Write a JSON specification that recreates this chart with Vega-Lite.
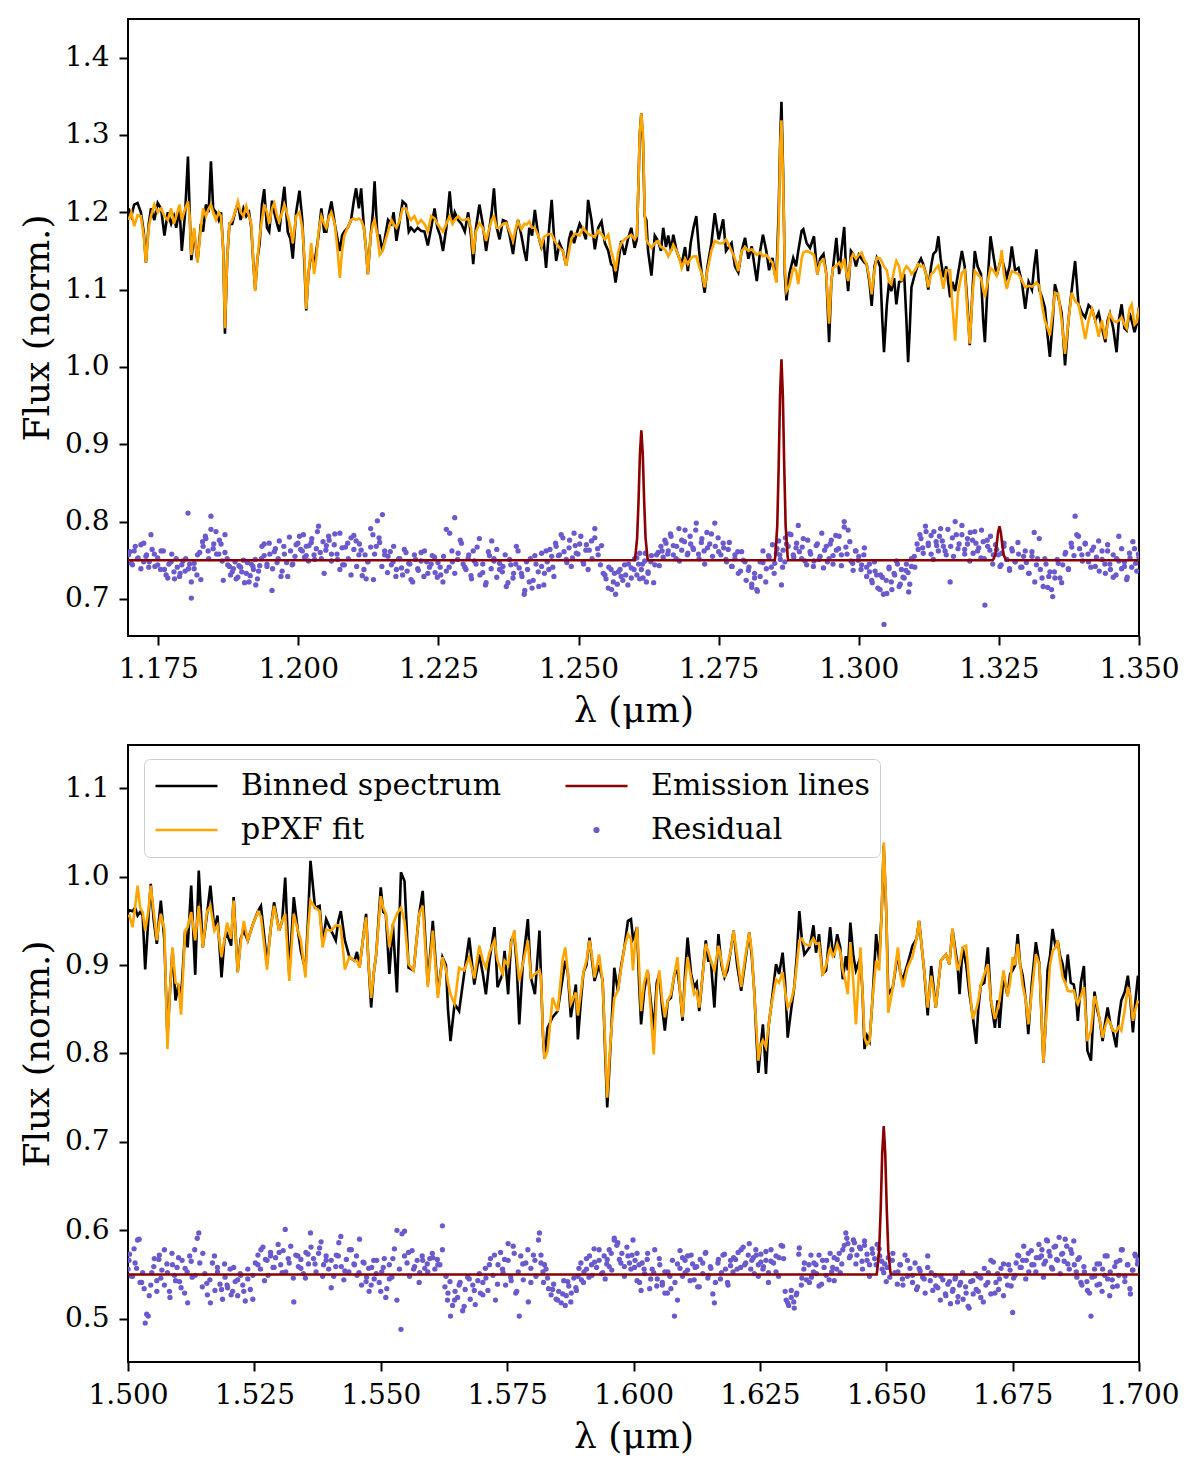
{
"$schema": "https://vega.github.io/schema/vega-lite/v6.json",
"background": "white",
"padding": {"left": 18, "top": 18, "right": 8, "bottom": 8},
"spacing": 15,
"config": {
  "font": "DejaVu Serif",
  "view": {"stroke": "black", "strokeWidth": 2},
  "axis": {"domain": false, "grid": false, "ticks": true, "tickColor": "black", "tickWidth": 2, "tickSize": 9, "labelFont": "DejaVu Serif", "labelFontSize": 28, "labelColor": "black", "labelPadding": 10, "labelFlush": false, "titleFont": "DejaVu Serif", "titleFontSize": 36, "titleFontWeight": "normal", "titleColor": "black"},
  "axisX": {"titlePadding": 10},
  "axisY": {"titlePadding": 8}
},
"datasets": {
"top": [
{"w":1.1697,"o":1.205,"f":1.190,"r":0.757},{"w":1.1702,"o":1.195,"f":1.200,"r":0.746},{"w":1.1707,"o":1.210,"f":1.182,"r":0.762},{"w":1.1713,"o":1.212,"f":1.196,"r":0.752},{"w":1.1719,"o":1.200,"f":1.195,"r":0.770},{"w":1.1724,"o":1.175,"f":1.170,"r":0.748},{"w":1.1728,"o":1.135,"f":1.135,"r":0.755},{"w":1.1733,"o":1.185,"f":1.180,"r":0.741},{"w":1.1737,"o":1.205,"f":1.195,"r":0.783},{"w":1.1743,"o":1.190,"f":1.210,"r":0.758},
{"w":1.1749,"o":1.212,"f":1.200,"r":0.744},{"w":1.1755,"o":1.205,"f":1.205,"r":0.762},{"w":1.1761,"o":1.170,"f":1.195,"r":0.738},{"w":1.1767,"o":1.200,"f":1.190,"r":0.727},{"w":1.1773,"o":1.185,"f":1.205,"r":0.748},{"w":1.1778,"o":1.195,"f":1.185,"r":0.735},{"w":1.1782,"o":1.180,"f":1.195,"r":0.752},{"w":1.1788,"o":1.205,"f":1.210,"r":0.729},{"w":1.1792,"o":1.150,"f":1.190,"r":0.744},{"w":1.1798,"o":1.200,"f":1.205,"r":0.736},
{"w":1.1803,"o":1.272,"f":1.214,"r":0.811},{"w":1.1806,"o":1.200,"f":1.195,"r":0.745},{"w":1.1809,"o":1.138,"f":1.145,"r":0.701},{"w":1.1814,"o":1.175,"f":1.180,"r":0.739},{"w":1.1820,"o":1.136,"f":1.135,"r":0.757},{"w":1.1826,"o":1.185,"f":1.180,"r":0.725},{"w":1.1830,"o":1.175,"f":1.205,"r":0.768},{"w":1.1835,"o":1.210,"f":1.195,"r":0.778},{"w":1.1840,"o":1.200,"f":1.205,"r":0.752},{"w":1.1844,"o":1.266,"f":1.210,"r":0.807},
{"w":1.1848,"o":1.205,"f":1.200,"r":0.765},{"w":1.1853,"o":1.200,"f":1.190,"r":0.787},{"w":1.1858,"o":1.190,"f":1.200,"r":0.758},{"w":1.1862,"o":1.200,"f":1.195,"r":0.771},{"w":1.1866,"o":1.150,"f":1.150,"r":0.724},{"w":1.1869,"o":1.043,"f":1.050,"r":0.760},{"w":1.1873,"o":1.140,"f":1.140,"r":0.752},{"w":1.1877,"o":1.185,"f":1.185,"r":0.742},{"w":1.1882,"o":1.185,"f":1.190,"r":0.735},{"w":1.1887,"o":1.200,"f":1.200,"r":0.748},
{"w":1.1892,"o":1.212,"f":1.214,"r":0.728},{"w":1.1897,"o":1.190,"f":1.200,"r":0.741},{"w":1.1902,"o":1.205,"f":1.195,"r":0.750},{"w":1.1907,"o":1.195,"f":1.208,"r":0.733},{"w":1.1912,"o":1.200,"f":1.195,"r":0.722},{"w":1.1916,"o":1.180,"f":1.185,"r":0.745},{"w":1.1920,"o":1.130,"f":1.130,"r":0.738},{"w":1.1923,"o":1.100,"f":1.098,"r":0.751},{"w":1.1927,"o":1.140,"f":1.140,"r":0.726},{"w":1.1931,"o":1.160,"f":1.170,"r":0.743},
{"w":1.1935,"o":1.210,"f":1.190,"r":0.768},{"w":1.1939,"o":1.230,"f":1.210,"r":0.756},{"w":1.1944,"o":1.180,"f":1.200,"r":0.742},{"w":1.1948,"o":1.175,"f":1.185,"r":0.772},{"w":1.1953,"o":1.215,"f":1.205,"r":0.711},{"w":1.1957,"o":1.200,"f":1.212,"r":0.761},{"w":1.1962,"o":1.185,"f":1.195,"r":0.747},{"w":1.1966,"o":1.175,"f":1.188,"r":0.775},{"w":1.1971,"o":1.210,"f":1.200,"r":0.736},{"w":1.1975,"o":1.233,"f":1.210,"r":0.758},
{"w":1.1981,"o":1.175,"f":1.195,"r":0.729},{"w":1.1986,"o":1.165,"f":1.180,"r":0.762},{"w":1.1990,"o":1.140,"f":1.160,"r":0.745},{"w":1.1996,"o":1.200,"f":1.195,"r":0.770},{"w":1.2002,"o":1.228,"f":1.200,"r":0.781},{"w":1.2007,"o":1.190,"f":1.180,"r":0.762},{"w":1.2011,"o":1.130,"f":1.140,"r":0.754},{"w":1.2014,"o":1.073,"f":1.075,"r":0.768},{"w":1.2018,"o":1.120,"f":1.120,"r":0.749},{"w":1.2023,"o":1.150,"f":1.160,"r":0.773},
{"w":1.2028,"o":1.130,"f":1.120,"r":0.757},{"w":1.2032,"o":1.150,"f":1.140,"r":0.765},{"w":1.2036,"o":1.170,"f":1.175,"r":0.794},{"w":1.2041,"o":1.205,"f":1.195,"r":0.752},{"w":1.2046,"o":1.175,"f":1.185,"r":0.733},{"w":1.2050,"o":1.175,"f":1.180,"r":0.769},{"w":1.2055,"o":1.200,"f":1.195,"r":0.776},{"w":1.2059,"o":1.214,"f":1.200,"r":0.758},{"w":1.2065,"o":1.185,"f":1.185,"r":0.784},{"w":1.2070,"o":1.165,"f":1.150,"r":0.751},
{"w":1.2074,"o":1.150,"f":1.115,"r":0.738},{"w":1.2078,"o":1.170,"f":1.150,"r":0.766},{"w":1.2082,"o":1.175,"f":1.170,"r":0.744},{"w":1.2088,"o":1.180,"f":1.180,"r":0.772},{"w":1.2094,"o":1.190,"f":1.190,"r":0.731},{"w":1.2099,"o":1.215,"f":1.192,"r":0.782},{"w":1.2103,"o":1.231,"f":1.190,"r":0.775},{"w":1.2108,"o":1.205,"f":1.192,"r":0.757},{"w":1.2112,"o":1.231,"f":1.190,"r":0.763},{"w":1.2117,"o":1.180,"f":1.180,"r":0.738},
{"w":1.2121,"o":1.150,"f":1.150,"r":0.726},{"w":1.2124,"o":1.120,"f":1.120,"r":0.748},{"w":1.2129,"o":1.170,"f":1.170,"r":0.767},{"w":1.2133,"o":1.200,"f":1.185,"r":0.783},{"w":1.2136,"o":1.240,"f":1.190,"r":0.758},{"w":1.2141,"o":1.170,"f":1.170,"r":0.801},{"w":1.2145,"o":1.170,"f":1.145,"r":0.773},{"w":1.2150,"o":1.150,"f":1.150,"r":0.809},{"w":1.2154,"o":1.165,"f":1.160,"r":0.762},{"w":1.2160,"o":1.190,"f":1.175,"r":0.755},
{"w":1.2166,"o":1.185,"f":1.190,"r":0.744},{"w":1.2170,"o":1.200,"f":1.185,"r":0.768},{"w":1.2175,"o":1.163,"f":1.180,"r":0.738},{"w":1.2181,"o":1.190,"f":1.190,"r":0.752},{"w":1.2186,"o":1.214,"f":1.205,"r":0.731},{"w":1.2192,"o":1.210,"f":1.205,"r":0.760},{"w":1.2197,"o":1.175,"f":1.195,"r":0.746},{"w":1.2201,"o":1.180,"f":1.190,"r":0.725},{"w":1.2207,"o":1.175,"f":1.195,"r":0.757},{"w":1.2213,"o":1.180,"f":1.185,"r":0.739},
{"w":1.2219,"o":1.176,"f":1.190,"r":0.749},{"w":1.2225,"o":1.175,"f":1.185,"r":0.762},{"w":1.2231,"o":1.157,"f":1.175,"r":0.733},{"w":1.2237,"o":1.180,"f":1.195,"r":0.745},{"w":1.2243,"o":1.205,"f":1.192,"r":0.754},{"w":1.2248,"o":1.180,"f":1.185,"r":0.728},{"w":1.2253,"o":1.170,"f":1.180,"r":0.741},{"w":1.2258,"o":1.150,"f":1.175,"r":0.722},{"w":1.2264,"o":1.180,"f":1.185,"r":0.736},{"w":1.2270,"o":1.227,"f":1.195,"r":0.785},
{"w":1.2275,"o":1.185,"f":1.185,"r":0.748},{"w":1.2279,"o":1.200,"f":1.190,"r":0.805},{"w":1.2285,"o":1.190,"f":1.195,"r":0.759},{"w":1.2291,"o":1.185,"f":1.190,"r":0.772},{"w":1.2297,"o":1.175,"f":1.190,"r":0.741},{"w":1.2303,"o":1.200,"f":1.192,"r":0.753},{"w":1.2308,"o":1.170,"f":1.180,"r":0.730},{"w":1.2312,"o":1.133,"f":1.146,"r":0.762},{"w":1.2317,"o":1.180,"f":1.175,"r":0.745},{"w":1.2323,"o":1.210,"f":1.186,"r":0.778},
{"w":1.2329,"o":1.185,"f":1.180,"r":0.734},{"w":1.2335,"o":1.150,"f":1.163,"r":0.721},{"w":1.2341,"o":1.180,"f":1.180,"r":0.756},{"w":1.2345,"o":1.200,"f":1.190,"r":0.775},{"w":1.2349,"o":1.231,"f":1.195,"r":0.749},{"w":1.2354,"o":1.180,"f":1.180,"r":0.764},{"w":1.2359,"o":1.165,"f":1.180,"r":0.738},{"w":1.2365,"o":1.190,"f":1.185,"r":0.742},{"w":1.2371,"o":1.188,"f":1.186,"r":0.716},{"w":1.2377,"o":1.170,"f":1.175,"r":0.751},
{"w":1.2383,"o":1.146,"f":1.163,"r":0.727},{"w":1.2388,"o":1.175,"f":1.180,"r":0.745},{"w":1.2392,"o":1.190,"f":1.188,"r":0.762},{"w":1.2398,"o":1.170,"f":1.178,"r":0.733},{"w":1.2403,"o":1.150,"f":1.185,"r":0.706},{"w":1.2407,"o":1.137,"f":1.184,"r":0.748},{"w":1.2412,"o":1.180,"f":1.188,"r":0.722},{"w":1.2417,"o":1.170,"f":1.180,"r":0.714},{"w":1.2422,"o":1.203,"f":1.180,"r":0.756},{"w":1.2428,"o":1.170,"f":1.170,"r":0.735},
{"w":1.2434,"o":1.154,"f":1.156,"r":0.742},{"w":1.2438,"o":1.160,"f":1.168,"r":0.718},{"w":1.2442,"o":1.128,"f":1.170,"r":0.762},{"w":1.2447,"o":1.175,"f":1.172,"r":0.738},{"w":1.2452,"o":1.216,"f":1.172,"r":0.755},{"w":1.2456,"o":1.170,"f":1.165,"r":0.729},{"w":1.2460,"o":1.137,"f":1.160,"r":0.768},{"w":1.2466,"o":1.160,"f":1.154,"r":0.757},{"w":1.2472,"o":1.150,"f":1.150,"r":0.779},{"w":1.2478,"o":1.131,"f":1.131,"r":0.751},
{"w":1.2483,"o":1.165,"f":1.150,"r":0.766},{"w":1.2487,"o":1.176,"f":1.165,"r":0.742},{"w":1.2492,"o":1.160,"f":1.172,"r":0.785},{"w":1.2496,"o":1.171,"f":1.172,"r":0.759},{"w":1.2502,"o":1.185,"f":1.170,"r":0.771},{"w":1.2508,"o":1.176,"f":1.180,"r":0.748},{"w":1.2513,"o":1.165,"f":1.175,"r":0.763},{"w":1.2517,"o":1.216,"f":1.172,"r":0.738},{"w":1.2523,"o":1.190,"f":1.170,"r":0.775},{"w":1.2529,"o":1.152,"f":1.168,"r":0.791},
{"w":1.2535,"o":1.180,"f":1.176,"r":0.757},{"w":1.2541,"o":1.188,"f":1.172,"r":0.769},{"w":1.2547,"o":1.160,"f":1.165,"r":0.731},{"w":1.2553,"o":1.150,"f":1.171,"r":0.714},{"w":1.2558,"o":1.133,"f":1.150,"r":0.738},{"w":1.2562,"o":1.130,"f":1.140,"r":0.722},{"w":1.2566,"o":1.109,"f":1.124,"r":0.706},{"w":1.2571,"o":1.135,"f":1.150,"r":0.735},{"w":1.2576,"o":1.163,"f":1.160,"r":0.729},{"w":1.2582,"o":1.145,"f":1.165,"r":0.744},
{"w":1.2588,"o":1.165,"f":1.168,"r":0.718},{"w":1.2594,"o":1.180,"f":1.171,"r":0.740},{"w":1.2600,"o":1.154,"f":1.165,"r":0.752},{"w":1.2604,"o":1.165,"f":1.170,"r":0.731},{"w":1.2607,"o":1.240,"f":1.240,"r":0.745},{"w":1.2609,"o":1.300,"f":1.300,"r":0.759},{"w":1.2612,"o":1.328,"f":1.328,"r":0.738},{"w":1.2615,"o":1.290,"f":1.300,"r":0.727},{"w":1.2618,"o":1.195,"f":1.200,"r":0.749},{"w":1.2621,"o":1.190,"f":1.165,"r":0.722},
{"w":1.2624,"o":1.150,"f":1.160,"r":0.735},{"w":1.2630,"o":1.118,"f":1.154,"r":0.756},{"w":1.2636,"o":1.170,"f":1.160,"r":0.744},{"w":1.2642,"o":1.163,"f":1.163,"r":0.760},{"w":1.2647,"o":1.150,"f":1.155,"r":0.768},{"w":1.2651,"o":1.180,"f":1.154,"r":0.754},{"w":1.2656,"o":1.155,"f":1.150,"r":0.772},{"w":1.2660,"o":1.170,"f":1.143,"r":0.762},{"w":1.2665,"o":1.150,"f":1.150,"r":0.781},{"w":1.2669,"o":1.171,"f":1.158,"r":0.757},
{"w":1.2675,"o":1.150,"f":1.150,"r":0.768},{"w":1.2680,"o":1.140,"f":1.140,"r":0.749},{"w":1.2684,"o":1.133,"f":1.128,"r":0.776},{"w":1.2690,"o":1.155,"f":1.140,"r":0.789},{"w":1.2695,"o":1.124,"f":1.133,"r":0.759},{"w":1.2700,"o":1.160,"f":1.140,"r":0.771},{"w":1.2705,"o":1.180,"f":1.143,"r":0.764},{"w":1.2710,"o":1.195,"f":1.143,"r":0.798},{"w":1.2715,"o":1.150,"f":1.130,"r":0.752},{"w":1.2720,"o":1.120,"f":1.120,"r":0.778},
{"w":1.2725,"o":1.096,"f":1.103,"r":0.745},{"w":1.2730,"o":1.130,"f":1.125,"r":0.766},{"w":1.2737,"o":1.160,"f":1.150,"r":0.784},{"w":1.2743,"o":1.199,"f":1.163,"r":0.798},{"w":1.2750,"o":1.165,"f":1.160,"r":0.761},{"w":1.2758,"o":1.191,"f":1.160,"r":0.772},{"w":1.2763,"o":1.150,"f":1.165,"r":0.751},{"w":1.2767,"o":1.154,"f":1.160,"r":0.764},{"w":1.2773,"o":1.160,"f":1.150,"r":0.742},{"w":1.2779,"o":1.130,"f":1.140,"r":0.757},
{"w":1.2785,"o":1.122,"f":1.124,"r":0.733},{"w":1.2791,"o":1.150,"f":1.150,"r":0.761},{"w":1.2797,"o":1.167,"f":1.155,"r":0.748},{"w":1.2803,"o":1.140,"f":1.150,"r":0.737},{"w":1.2809,"o":1.156,"f":1.152,"r":0.715},{"w":1.2814,"o":1.130,"f":1.148,"r":0.727},{"w":1.2818,"o":1.111,"f":1.145,"r":0.712},{"w":1.2824,"o":1.150,"f":1.148,"r":0.748},{"w":1.2829,"o":1.171,"f":1.143,"r":0.762},{"w":1.2835,"o":1.150,"f":1.145,"r":0.739},
{"w":1.2840,"o":1.125,"f":1.140,"r":0.754},{"w":1.2846,"o":1.141,"f":1.135,"r":0.770},{"w":1.2850,"o":1.120,"f":1.120,"r":0.746},{"w":1.2853,"o":1.116,"f":1.109,"r":0.759},{"w":1.2857,"o":1.200,"f":1.180,"r":0.775},{"w":1.2860,"o":1.300,"f":1.290,"r":0.751},{"w":1.2862,"o":1.343,"f":1.319,"r":0.718},{"w":1.2865,"o":1.250,"f":1.240,"r":0.763},{"w":1.2868,"o":1.120,"f":1.130,"r":0.748},{"w":1.2871,"o":1.086,"f":1.098,"r":0.771},
{"w":1.2876,"o":1.120,"f":1.105,"r":0.784},{"w":1.2883,"o":1.141,"f":1.128,"r":0.757},{"w":1.2888,"o":1.130,"f":1.125,"r":0.766},{"w":1.2892,"o":1.150,"f":1.107,"r":0.795},{"w":1.2898,"o":1.176,"f":1.140,"r":0.752},{"w":1.2901,"o":1.178,"f":1.148,"r":0.778},{"w":1.2907,"o":1.160,"f":1.150,"r":0.744},{"w":1.2913,"o":1.154,"f":1.148,"r":0.761},{"w":1.2920,"o":1.169,"f":1.145,"r":0.749},{"w":1.2926,"o":1.120,"f":1.120,"r":0.771},
{"w":1.2931,"o":1.140,"f":1.135,"r":0.755},{"w":1.2937,"o":1.146,"f":1.139,"r":0.740},{"w":1.2942,"o":1.120,"f":1.120,"r":0.768},{"w":1.2947,"o":1.032,"f":1.056,"r":0.752},{"w":1.2951,"o":1.110,"f":1.110,"r":0.776},{"w":1.2954,"o":1.128,"f":1.128,"r":0.745},{"w":1.2960,"o":1.167,"f":1.131,"r":0.763},{"w":1.2965,"o":1.120,"f":1.135,"r":0.781},{"w":1.2969,"o":1.150,"f":1.128,"r":0.757},{"w":1.2974,"o":1.181,"f":1.140,"r":0.800},
{"w":1.2977,"o":1.130,"f":1.125,"r":0.767},{"w":1.2981,"o":1.098,"f":1.111,"r":0.789},{"w":1.2986,"o":1.150,"f":1.140,"r":0.749},{"w":1.2990,"o":1.146,"f":1.146,"r":0.737},{"w":1.2995,"o":1.130,"f":1.140,"r":0.762},{"w":1.3000,"o":1.145,"f":1.145,"r":0.755},{"w":1.3005,"o":1.140,"f":1.148,"r":0.744},{"w":1.3010,"o":1.135,"f":1.138,"r":0.766},{"w":1.3014,"o":1.133,"f":1.133,"r":0.741},{"w":1.3019,"o":1.110,"f":1.115,"r":0.735},
{"w":1.3023,"o":1.079,"f":1.094,"r":0.724},{"w":1.3028,"o":1.130,"f":1.125,"r":0.748},{"w":1.3032,"o":1.141,"f":1.141,"r":0.731},{"w":1.3038,"o":1.130,"f":1.140,"r":0.712},{"w":1.3042,"o":1.060,"f":1.135,"r":0.728},{"w":1.3045,"o":1.019,"f":1.130,"r":0.667},{"w":1.3050,"o":1.080,"f":1.125,"r":0.707},{"w":1.3054,"o":1.110,"f":1.110,"r":0.741},{"w":1.3058,"o":1.098,"f":1.107,"r":0.722},{"w":1.3063,"o":1.115,"f":1.125,"r":0.733},
{"w":1.3067,"o":1.081,"f":1.137,"r":0.749},{"w":1.3072,"o":1.110,"f":1.130,"r":0.716},{"w":1.3076,"o":1.111,"f":1.111,"r":0.738},{"w":1.3081,"o":1.120,"f":1.125,"r":0.727},{"w":1.3085,"o":1.060,"f":1.130,"r":0.745},{"w":1.3088,"o":1.006,"f":1.128,"r":0.734},{"w":1.3091,"o":1.050,"f":1.125,"r":0.719},{"w":1.3094,"o":1.103,"f":1.120,"r":0.752},{"w":1.3100,"o":1.120,"f":1.125,"r":0.741},{"w":1.3106,"o":1.133,"f":1.133,"r":0.764},
{"w":1.3111,"o":1.140,"f":1.130,"r":0.778},{"w":1.3115,"o":1.133,"f":1.131,"r":0.759},{"w":1.3120,"o":1.120,"f":1.120,"r":0.787},{"w":1.3124,"o":1.100,"f":1.103,"r":0.769},{"w":1.3129,"o":1.130,"f":1.120,"r":0.782},{"w":1.3133,"o":1.146,"f":1.122,"r":0.751},{"w":1.3138,"o":1.150,"f":1.128,"r":0.774},{"w":1.3142,"o":1.169,"f":1.131,"r":0.762},{"w":1.3146,"o":1.140,"f":1.120,"r":0.791},{"w":1.3151,"o":1.116,"f":1.101,"r":0.768},
{"w":1.3156,"o":1.130,"f":1.125,"r":0.757},{"w":1.3163,"o":1.090,"f":1.125,"r":0.722},{"w":1.3167,"o":1.110,"f":1.080,"r":0.779},{"w":1.3172,"o":1.098,"f":1.034,"r":0.800},{"w":1.3177,"o":1.120,"f":1.095,"r":0.765},{"w":1.3184,"o":1.150,"f":1.122,"r":0.783},{"w":1.3189,"o":1.130,"f":1.125,"r":0.758},{"w":1.3194,"o":1.080,"f":1.070,"r":0.771},{"w":1.3198,"o":1.028,"f":1.030,"r":0.749},{"w":1.3203,"o":1.100,"f":1.095,"r":0.776},
{"w":1.3207,"o":1.150,"f":1.124,"r":0.787},{"w":1.3212,"o":1.130,"f":1.120,"r":0.762},{"w":1.3218,"o":1.120,"f":1.115,"r":0.753},{"w":1.3222,"o":1.060,"f":1.100,"r":0.774},{"w":1.3225,"o":1.032,"f":1.090,"r":0.692},{"w":1.3230,"o":1.110,"f":1.110,"r":0.768},{"w":1.3235,"o":1.169,"f":1.128,"r":0.781},{"w":1.3240,"o":1.145,"f":1.125,"r":0.757},{"w":1.3246,"o":1.118,"f":1.118,"r":0.764},{"w":1.3252,"o":1.135,"f":1.135,"r":0.742},
{"w":1.3255,"o":1.141,"f":1.151,"r":0.759},{"w":1.3259,"o":1.130,"f":1.120,"r":0.772},{"w":1.3264,"o":1.116,"f":1.101,"r":0.751},{"w":1.3269,"o":1.130,"f":1.115,"r":0.737},{"w":1.3273,"o":1.156,"f":1.124,"r":0.765},{"w":1.3279,"o":1.125,"f":1.122,"r":0.748},{"w":1.3285,"o":1.128,"f":1.120,"r":0.758},{"w":1.3291,"o":1.110,"f":1.112,"r":0.741},{"w":1.3297,"o":1.075,"f":1.103,"r":0.762},{"w":1.3303,"o":1.110,"f":1.105,"r":0.733},
{"w":1.3309,"o":1.100,"f":1.104,"r":0.755},{"w":1.3313,"o":1.130,"f":1.106,"r":0.786},{"w":1.3317,"o":1.152,"f":1.109,"r":0.744},{"w":1.3322,"o":1.100,"f":1.105,"r":0.778},{"w":1.3327,"o":1.090,"f":1.080,"r":0.727},{"w":1.3332,"o":1.077,"f":1.060,"r":0.752},{"w":1.3337,"o":1.040,"f":1.050,"r":0.715},{"w":1.3341,"o":1.013,"f":1.041,"r":0.735},{"w":1.3346,"o":1.060,"f":1.070,"r":0.703},{"w":1.3350,"o":1.107,"f":1.096,"r":0.727},
{"w":1.3356,"o":1.090,"f":1.094,"r":0.746},{"w":1.3362,"o":1.070,"f":1.060,"r":0.721},{"w":1.3368,"o":1.002,"f":1.017,"r":0.758},{"w":1.3374,"o":1.060,"f":1.060,"r":0.739},{"w":1.3380,"o":1.100,"f":1.096,"r":0.767},{"w":1.3386,"o":1.137,"f":1.085,"r":0.807},{"w":1.3392,"o":1.081,"f":1.081,"r":0.781},{"w":1.3398,"o":1.070,"f":1.060,"r":0.757},{"w":1.3404,"o":1.064,"f":1.036,"r":0.771},{"w":1.3410,"o":1.080,"f":1.060,"r":0.748},
{"w":1.3416,"o":1.075,"f":1.075,"r":0.763},{"w":1.3422,"o":1.060,"f":1.060,"r":0.742},{"w":1.3428,"o":1.070,"f":1.039,"r":0.775},{"w":1.3434,"o":1.050,"f":1.060,"r":0.751},{"w":1.3440,"o":1.032,"f":1.036,"r":0.733},{"w":1.3444,"o":1.060,"f":1.055,"r":0.762},{"w":1.3448,"o":1.069,"f":1.069,"r":0.745},{"w":1.3454,"o":1.050,"f":1.060,"r":0.728},{"w":1.3460,"o":1.019,"f":1.058,"r":0.752},{"w":1.3464,"o":1.060,"f":1.060,"r":0.781},
{"w":1.3469,"o":1.081,"f":1.064,"r":0.739},{"w":1.3474,"o":1.050,"f":1.055,"r":0.748},{"w":1.3478,"o":1.047,"f":1.050,"r":0.725},{"w":1.3483,"o":1.070,"f":1.075,"r":0.759},{"w":1.3487,"o":1.060,"f":1.081,"r":0.741},{"w":1.3492,"o":1.045,"f":1.055,"r":0.765},{"w":1.3496,"o":1.056,"f":1.058,"r":0.736},{"w":1.3500,"o":1.077,"f":1.077,"r":0.754}
],
"rt2": [
{"w":1.1699,"r":0.761},{"w":1.1704,"r":0.744},{"w":1.1709,"r":0.768},{"w":1.1714,"r":0.753},{"w":1.1719,"r":0.739},{"w":1.1724,"r":0.772},{"w":1.1729,"r":0.757},{"w":1.1734,"r":0.748},{"w":1.1739,"r":0.764},{"w":1.1744,"r":0.742},
{"w":1.1749,"r":0.753},{"w":1.1754,"r":0.738},{"w":1.1759,"r":0.762},{"w":1.1764,"r":0.731},{"w":1.1769,"r":0.745},{"w":1.1774,"r":0.758},{"w":1.1779,"r":0.726},{"w":1.1784,"r":0.741},{"w":1.1789,"r":0.733},{"w":1.1794,"r":0.749},
{"w":1.1799,"r":0.752},{"w":1.1804,"r":0.739},{"w":1.1809,"r":0.722},{"w":1.1814,"r":0.746},{"w":1.1819,"r":0.731},{"w":1.1824,"r":0.760},{"w":1.1829,"r":0.774},{"w":1.1834,"r":0.781},{"w":1.1839,"r":0.762},{"w":1.1844,"r":0.790},
{"w":1.1849,"r":0.771},{"w":1.1854,"r":0.758},{"w":1.1859,"r":0.776},{"w":1.1864,"r":0.749},{"w":1.1869,"r":0.783},{"w":1.1874,"r":0.744},{"w":1.1879,"r":0.731},{"w":1.1884,"r":0.739},{"w":1.1889,"r":0.726},{"w":1.1894,"r":0.743},
{"w":1.1899,"r":0.735},{"w":1.1904,"r":0.721},{"w":1.1909,"r":0.747},{"w":1.1914,"r":0.730},{"w":1.1919,"r":0.742},{"w":1.1924,"r":0.718},{"w":1.1929,"r":0.736},{"w":1.1934,"r":0.752},{"w":1.1939,"r":0.771},{"w":1.1944,"r":0.745},
{"w":1.1949,"r":0.758},{"w":1.1954,"r":0.739},{"w":1.1959,"r":0.765},{"w":1.1964,"r":0.752},{"w":1.1969,"r":0.729},{"w":1.1974,"r":0.768},{"w":1.1979,"r":0.747},{"w":1.1984,"r":0.780},{"w":1.1989,"r":0.744},{"w":1.1994,"r":0.755},
{"w":1.1999,"r":0.772},{"w":1.2004,"r":0.764},{"w":1.2009,"r":0.783},{"w":1.2014,"r":0.756},{"w":1.2019,"r":0.769},{"w":1.2024,"r":0.778},{"w":1.2029,"r":0.751},{"w":1.2034,"r":0.787},{"w":1.2039,"r":0.760},{"w":1.2044,"r":0.774},
{"w":1.2049,"r":0.763},{"w":1.2054,"r":0.781},{"w":1.2059,"r":0.749},{"w":1.2064,"r":0.770},{"w":1.2069,"r":0.758},{"w":1.2074,"r":0.785},{"w":1.2079,"r":0.744},{"w":1.2084,"r":0.767},{"w":1.2089,"r":0.752},{"w":1.2094,"r":0.779},
{"w":1.2099,"r":0.764},{"w":1.2104,"r":0.742},{"w":1.2109,"r":0.771},{"w":1.2114,"r":0.730},{"w":1.2119,"r":0.757},{"w":1.2124,"r":0.748},{"w":1.2129,"r":0.791},{"w":1.2134,"r":0.725},{"w":1.2139,"r":0.768},{"w":1.2144,"r":0.779},
{"w":1.2149,"r":0.742},{"w":1.2154,"r":0.757},{"w":1.2159,"r":0.734},{"w":1.2164,"r":0.761},{"w":1.2169,"r":0.748},{"w":1.2174,"r":0.729},{"w":1.2179,"r":0.752},{"w":1.2184,"r":0.740},{"w":1.2189,"r":0.764},{"w":1.2194,"r":0.736},
{"w":1.2199,"r":0.745},{"w":1.2204,"r":0.722},{"w":1.2209,"r":0.751},{"w":1.2214,"r":0.737},{"w":1.2219,"r":0.760},{"w":1.2224,"r":0.729},{"w":1.2229,"r":0.748},{"w":1.2234,"r":0.741},{"w":1.2239,"r":0.756},{"w":1.2244,"r":0.734},
{"w":1.2249,"r":0.747},{"w":1.2254,"r":0.731},{"w":1.2259,"r":0.755},{"w":1.2264,"r":0.790},{"w":1.2269,"r":0.741},{"w":1.2274,"r":0.762},{"w":1.2279,"r":0.733},{"w":1.2284,"r":0.751},{"w":1.2289,"r":0.776},{"w":1.2294,"r":0.745},
{"w":1.2299,"r":0.738},{"w":1.2304,"r":0.757},{"w":1.2309,"r":0.726},{"w":1.2314,"r":0.749},{"w":1.2319,"r":0.767},{"w":1.2324,"r":0.731},{"w":1.2329,"r":0.745},{"w":1.2334,"r":0.718},{"w":1.2339,"r":0.761},{"w":1.2344,"r":0.739},
{"w":1.2349,"r":0.752},{"w":1.2354,"r":0.728},{"w":1.2359,"r":0.746},{"w":1.2364,"r":0.735},{"w":1.2369,"r":0.757},{"w":1.2374,"r":0.721},{"w":1.2379,"r":0.744},{"w":1.2384,"r":0.733},{"w":1.2389,"r":0.768},{"w":1.2394,"r":0.740},
{"w":1.2399,"r":0.729},{"w":1.2404,"r":0.711},{"w":1.2409,"r":0.738},{"w":1.2414,"r":0.752},{"w":1.2419,"r":0.724},{"w":1.2424,"r":0.745},{"w":1.2429,"r":0.716},{"w":1.2434,"r":0.759},{"w":1.2439,"r":0.733},{"w":1.2444,"r":0.748},
{"w":1.2449,"r":0.764},{"w":1.2454,"r":0.741},{"w":1.2459,"r":0.772},{"w":1.2464,"r":0.756},{"w":1.2469,"r":0.783},{"w":1.2474,"r":0.761},{"w":1.2479,"r":0.747},{"w":1.2484,"r":0.776},{"w":1.2489,"r":0.753},{"w":1.2494,"r":0.769},
{"w":1.2499,"r":0.758},{"w":1.2504,"r":0.781},{"w":1.2509,"r":0.745},{"w":1.2514,"r":0.770},{"w":1.2519,"r":0.763},{"w":1.2524,"r":0.752},{"w":1.2529,"r":0.779},{"w":1.2534,"r":0.765},{"w":1.2539,"r":0.744},{"w":1.2544,"r":0.733},
{"w":1.2549,"r":0.726},{"w":1.2554,"r":0.741},{"w":1.2559,"r":0.712},{"w":1.2564,"r":0.733},{"w":1.2569,"r":0.719},{"w":1.2574,"r":0.738},{"w":1.2579,"r":0.724},{"w":1.2584,"r":0.731},{"w":1.2589,"r":0.745},{"w":1.2594,"r":0.727},
{"w":1.2599,"r":0.738},{"w":1.2604,"r":0.753},{"w":1.2609,"r":0.726},{"w":1.2614,"r":0.745},{"w":1.2619,"r":0.759},{"w":1.2624,"r":0.733},{"w":1.2629,"r":0.748},{"w":1.2634,"r":0.721},{"w":1.2639,"r":0.757},{"w":1.2644,"r":0.743},
{"w":1.2649,"r":0.762},{"w":1.2654,"r":0.776},{"w":1.2659,"r":0.758},{"w":1.2664,"r":0.784},{"w":1.2669,"r":0.769},{"w":1.2674,"r":0.752},{"w":1.2679,"r":0.791},{"w":1.2684,"r":0.763},{"w":1.2689,"r":0.774},{"w":1.2694,"r":0.757},
{"w":1.2699,"r":0.781},{"w":1.2704,"r":0.766},{"w":1.2709,"r":0.789},{"w":1.2714,"r":0.758},{"w":1.2719,"r":0.773},{"w":1.2724,"r":0.762},{"w":1.2729,"r":0.786},{"w":1.2734,"r":0.771},{"w":1.2739,"r":0.755},{"w":1.2744,"r":0.768},
{"w":1.2749,"r":0.779},{"w":1.2754,"r":0.757},{"w":1.2759,"r":0.766},{"w":1.2764,"r":0.748},{"w":1.2769,"r":0.773},{"w":1.2774,"r":0.742},{"w":1.2779,"r":0.752},{"w":1.2784,"r":0.761},{"w":1.2789,"r":0.736},{"w":1.2794,"r":0.750},
{"w":1.2799,"r":0.724},{"w":1.2804,"r":0.741},{"w":1.2809,"r":0.719},{"w":1.2814,"r":0.733},{"w":1.2819,"r":0.710},{"w":1.2824,"r":0.729},{"w":1.2829,"r":0.747},{"w":1.2834,"r":0.722},{"w":1.2839,"r":0.756},{"w":1.2844,"r":0.741},
{"w":1.2849,"r":0.733},{"w":1.2854,"r":0.765},{"w":1.2859,"r":0.757},{"w":1.2864,"r":0.741},{"w":1.2869,"r":0.779},{"w":1.2874,"r":0.768},{"w":1.2879,"r":0.783},{"w":1.2884,"r":0.754},{"w":1.2889,"r":0.772},{"w":1.2894,"r":0.761},
{"w":1.2899,"r":0.767},{"w":1.2904,"r":0.749},{"w":1.2909,"r":0.776},{"w":1.2914,"r":0.758},{"w":1.2919,"r":0.742},{"w":1.2924,"r":0.769},{"w":1.2929,"r":0.751},{"w":1.2934,"r":0.785},{"w":1.2939,"r":0.763},{"w":1.2944,"r":0.748},
{"w":1.2949,"r":0.771},{"w":1.2954,"r":0.756},{"w":1.2959,"r":0.782},{"w":1.2964,"r":0.765},{"w":1.2969,"r":0.743},{"w":1.2974,"r":0.793},{"w":1.2979,"r":0.758},{"w":1.2984,"r":0.774},{"w":1.2989,"r":0.746},{"w":1.2994,"r":0.762},
{"w":1.2999,"r":0.750},{"w":1.3004,"r":0.738},{"w":1.3009,"r":0.757},{"w":1.3014,"r":0.729},{"w":1.3019,"r":0.745},{"w":1.3024,"r":0.721},{"w":1.3029,"r":0.736},{"w":1.3034,"r":0.714},{"w":1.3039,"r":0.731},{"w":1.3044,"r":0.706},
{"w":1.3049,"r":0.724},{"w":1.3054,"r":0.739},{"w":1.3059,"r":0.712},{"w":1.3064,"r":0.731},{"w":1.3069,"r":0.745},{"w":1.3074,"r":0.719},{"w":1.3079,"r":0.728},{"w":1.3084,"r":0.737},{"w":1.3089,"r":0.709},{"w":1.3094,"r":0.742},
{"w":1.3099,"r":0.755},{"w":1.3104,"r":0.771},{"w":1.3109,"r":0.783},{"w":1.3114,"r":0.766},{"w":1.3119,"r":0.794},{"w":1.3124,"r":0.772},{"w":1.3129,"r":0.758},{"w":1.3134,"r":0.787},{"w":1.3139,"r":0.769},{"w":1.3144,"r":0.781},
{"w":1.3149,"r":0.775},{"w":1.3154,"r":0.762},{"w":1.3159,"r":0.790},{"w":1.3164,"r":0.768},{"w":1.3169,"r":0.755},{"w":1.3174,"r":0.783},{"w":1.3179,"r":0.771},{"w":1.3184,"r":0.795},{"w":1.3189,"r":0.764},{"w":1.3194,"r":0.778},
{"w":1.3199,"r":0.786},{"w":1.3204,"r":0.759},{"w":1.3209,"r":0.772},{"w":1.3214,"r":0.766},{"w":1.3219,"r":0.789},{"w":1.3224,"r":0.752},{"w":1.3229,"r":0.776},{"w":1.3234,"r":0.763},{"w":1.3239,"r":0.745},{"w":1.3244,"r":0.770},
{"w":1.3249,"r":0.757},{"w":1.3254,"r":0.744},{"w":1.3259,"r":0.768},{"w":1.3264,"r":0.751},{"w":1.3269,"r":0.739},{"w":1.3274,"r":0.762},{"w":1.3279,"r":0.748},{"w":1.3284,"r":0.773},{"w":1.3289,"r":0.741},{"w":1.3294,"r":0.755},
{"w":1.3299,"r":0.747},{"w":1.3304,"r":0.733},{"w":1.3309,"r":0.761},{"w":1.3314,"r":0.722},{"w":1.3319,"r":0.752},{"w":1.3324,"r":0.738},{"w":1.3329,"r":0.716},{"w":1.3334,"r":0.745},{"w":1.3339,"r":0.729},{"w":1.3344,"r":0.712},
{"w":1.3349,"r":0.735},{"w":1.3354,"r":0.751},{"w":1.3359,"r":0.727},{"w":1.3364,"r":0.744},{"w":1.3369,"r":0.760},{"w":1.3374,"r":0.738},{"w":1.3379,"r":0.772},{"w":1.3384,"r":0.756},{"w":1.3389,"r":0.783},{"w":1.3394,"r":0.765},
{"w":1.3399,"r":0.749},{"w":1.3404,"r":0.772},{"w":1.3409,"r":0.758},{"w":1.3414,"r":0.741},{"w":1.3419,"r":0.767},{"w":1.3424,"r":0.754},{"w":1.3429,"r":0.736},{"w":1.3434,"r":0.762},{"w":1.3439,"r":0.745},{"w":1.3444,"r":0.770},
{"w":1.3449,"r":0.738},{"w":1.3454,"r":0.757},{"w":1.3459,"r":0.731},{"w":1.3464,"r":0.749},{"w":1.3469,"r":0.765},{"w":1.3474,"r":0.742},{"w":1.3479,"r":0.728},{"w":1.3484,"r":0.753},{"w":1.3489,"r":0.774},{"w":1.3494,"r":0.746},
{"w":1.3499,"r":0.758}
],
"bot": [
{"w":1.5000,"o":0.960,"f":0.955,"r":0.556},{"w":1.5003,"o":0.962,"f":0.956,"r":0.573},{"w":1.5009,"o":0.961,"f":0.943,"r":0.548},{"w":1.5014,"o":0.965,"f":0.965,"r":0.563},{"w":1.5019,"o":0.956,"f":0.990,"r":0.589},{"w":1.5024,"o":0.960,"f":0.965,"r":0.541},{"w":1.5029,"o":0.956,"f":0.960,"r":0.552},{"w":1.5034,"o":0.895,"f":0.939,"r":0.495},{"w":1.5040,"o":0.950,"f":0.960,"r":0.503},{"w":1.5045,"o":0.992,"f":0.990,"r":0.538},
{"w":1.5051,"o":0.950,"f":0.960,"r":0.559},{"w":1.5057,"o":0.924,"f":0.928,"r":0.531},{"w":1.5061,"o":0.950,"f":0.945,"r":0.567},{"w":1.5065,"o":0.973,"f":0.958,"r":0.546},{"w":1.5072,"o":0.928,"f":0.940,"r":0.578},{"w":1.5078,"o":0.818,"f":0.805,"r":0.552},{"w":1.5083,"o":0.870,"f":0.870,"r":0.524},{"w":1.5088,"o":0.918,"f":0.920,"r":0.561},{"w":1.5094,"o":0.860,"f":0.880,"r":0.543},{"w":1.5100,"o":0.878,"f":0.878,"r":0.569},
{"w":1.5105,"o":0.863,"f":0.844,"r":0.535},{"w":1.5113,"o":0.939,"f":0.939,"r":0.557},{"w":1.5118,"o":0.920,"f":0.943,"r":0.518},{"w":1.5125,"o":0.990,"f":0.960,"r":0.565},{"w":1.5133,"o":0.889,"f":0.928,"r":0.549},{"w":1.5140,"o":1.007,"f":0.967,"r":0.597},{"w":1.5148,"o":0.920,"f":0.920,"r":0.574},{"w":1.5156,"o":0.956,"f":0.960,"r":0.540},{"w":1.5163,"o":0.990,"f":0.967,"r":0.518},{"w":1.5171,"o":0.939,"f":0.939,"r":0.571},
{"w":1.5177,"o":0.956,"f":0.945,"r":0.553},{"w":1.5185,"o":0.886,"f":0.909,"r":0.533},{"w":1.5191,"o":0.930,"f":0.930,"r":0.562},{"w":1.5196,"o":0.935,"f":0.948,"r":0.538},{"w":1.5204,"o":0.922,"f":0.930,"r":0.527},{"w":1.5209,"o":0.977,"f":0.973,"r":0.558},{"w":1.5217,"o":0.892,"f":0.892,"r":0.544},{"w":1.5223,"o":0.930,"f":0.925,"r":0.549},{"w":1.5229,"o":0.939,"f":0.950,"r":0.531},{"w":1.5237,"o":0.928,"f":0.928,"r":0.556},
{"w":1.5247,"o":0.946,"f":0.946,"r":0.522},{"w":1.5257,"o":0.961,"f":0.960,"r":0.561},{"w":1.5263,"o":0.967,"f":0.955,"r":0.578},{"w":1.5270,"o":0.930,"f":0.920,"r":0.543},{"w":1.5275,"o":0.901,"f":0.895,"r":0.566},{"w":1.5282,"o":0.940,"f":0.940,"r":0.571},{"w":1.5289,"o":0.971,"f":0.967,"r":0.558},{"w":1.5299,"o":0.939,"f":0.939,"r":0.575},{"w":1.5305,"o":0.950,"f":0.950,"r":0.552},{"w":1.5311,"o":0.999,"f":0.958,"r":0.601},
{"w":1.5319,"o":0.890,"f":0.882,"r":0.563},{"w":1.5328,"o":0.977,"f":0.958,"r":0.519},{"w":1.5336,"o":0.939,"f":0.939,"r":0.571},{"w":1.5342,"o":0.916,"f":0.928,"r":0.557},{"w":1.5351,"o":0.894,"f":0.886,"r":0.546},{"w":1.5356,"o":0.950,"f":0.940,"r":0.573},{"w":1.5361,"o":1.018,"f":0.973,"r":0.597},{"w":1.5370,"o":0.965,"f":0.965,"r":0.562},{"w":1.5379,"o":0.967,"f":0.961,"r":0.580},{"w":1.5385,"o":0.924,"f":0.920,"r":0.548},
{"w":1.5392,"o":0.952,"f":0.940,"r":0.566},{"w":1.5402,"o":0.939,"f":0.939,"r":0.535},{"w":1.5411,"o":0.928,"f":0.945,"r":0.559},{"w":1.5416,"o":0.950,"f":0.945,"r":0.571},{"w":1.5421,"o":0.961,"f":0.943,"r":0.593},{"w":1.5429,"o":0.928,"f":0.895,"r":0.554},{"w":1.5438,"o":0.909,"f":0.909,"r":0.578},{"w":1.5448,"o":0.905,"f":0.905,"r":0.561},{"w":1.5453,"o":0.915,"f":0.905,"r":0.549},{"w":1.5458,"o":0.897,"f":0.897,"r":0.590},
{"w":1.5465,"o":0.930,"f":0.930,"r":0.564},{"w":1.5471,"o":0.958,"f":0.954,"r":0.542},{"w":1.5476,"o":0.900,"f":0.900,"r":0.557},{"w":1.5481,"o":0.852,"f":0.863,"r":0.538},{"w":1.5486,"o":0.890,"f":0.890,"r":0.566},{"w":1.5491,"o":0.912,"f":0.912,"r":0.551},{"w":1.5500,"o":0.988,"f":0.978,"r":0.531},{"w":1.5505,"o":0.960,"f":0.965,"r":0.558},{"w":1.5510,"o":0.958,"f":0.958,"r":0.524},{"w":1.5517,"o":0.890,"f":0.920,"r":0.545},
{"w":1.5524,"o":0.946,"f":0.946,"r":0.568},{"w":1.5532,"o":0.869,"f":0.958,"r":0.600},{"w":1.5540,"o":1.005,"f":0.965,"r":0.488},{"w":1.5547,"o":0.995,"f":0.950,"r":0.599},{"w":1.5555,"o":0.897,"f":0.901,"r":0.575},{"w":1.5565,"o":0.894,"f":0.894,"r":0.556},{"w":1.5576,"o":0.958,"f":0.958,"r":0.541},{"w":1.5583,"o":0.984,"f":0.967,"r":0.566},{"w":1.5593,"o":0.878,"f":0.875,"r":0.553},{"w":1.5603,"o":0.950,"f":0.939,"r":0.569},
{"w":1.5613,"o":0.867,"f":0.863,"r":0.561},{"w":1.5622,"o":0.909,"f":0.909,"r":0.605},{"w":1.5629,"o":0.900,"f":0.895,"r":0.548},{"w":1.5633,"o":0.850,"f":0.880,"r":0.529},{"w":1.5638,"o":0.814,"f":0.867,"r":0.503},{"w":1.5646,"o":0.856,"f":0.856,"r":0.521},{"w":1.5655,"o":0.848,"f":0.897,"r":0.538},{"w":1.5665,"o":0.890,"f":0.894,"r":0.514},{"w":1.5675,"o":0.931,"f":0.909,"r":0.545},{"w":1.5685,"o":0.878,"f":0.885,"r":0.532},
{"w":1.5695,"o":0.912,"f":0.922,"r":0.551},{"w":1.5702,"o":0.890,"f":0.905,"r":0.527},{"w":1.5708,"o":0.867,"f":0.897,"r":0.546},{"w":1.5715,"o":0.905,"f":0.914,"r":0.561},{"w":1.5725,"o":0.943,"f":0.928,"r":0.572},{"w":1.5731,"o":0.875,"f":0.905,"r":0.539},{"w":1.5741,"o":0.890,"f":0.890,"r":0.556},{"w":1.5745,"o":0.916,"f":0.905,"r":0.567},{"w":1.5752,"o":0.867,"f":0.900,"r":0.585},{"w":1.5758,"o":0.928,"f":0.925,"r":0.543},
{"w":1.5764,"o":0.935,"f":0.939,"r":0.574},{"w":1.5769,"o":0.900,"f":0.910,"r":0.531},{"w":1.5774,"o":0.833,"f":0.882,"r":0.503},{"w":1.5781,"o":0.901,"f":0.901,"r":0.562},{"w":1.5791,"o":0.952,"f":0.928,"r":0.578},{"w":1.5797,"o":0.886,"f":0.886,"r":0.541},{"w":1.5805,"o":0.867,"f":0.890,"r":0.566},{"w":1.5814,"o":0.939,"f":0.894,"r":0.597},{"w":1.5817,"o":0.886,"f":0.886,"r":0.572},{"w":1.5821,"o":0.820,"f":0.820,"r":0.553},
{"w":1.5824,"o":0.794,"f":0.794,"r":0.561},{"w":1.5830,"o":0.829,"f":0.803,"r":0.546},{"w":1.5840,"o":0.841,"f":0.863,"r":0.533},{"w":1.5850,"o":0.848,"f":0.848,"r":0.521},{"w":1.5860,"o":0.886,"f":0.907,"r":0.528},{"w":1.5865,"o":0.905,"f":0.920,"r":0.515},{"w":1.5870,"o":0.892,"f":0.892,"r":0.542},{"w":1.5876,"o":0.841,"f":0.856,"r":0.519},{"w":1.5886,"o":0.878,"f":0.869,"r":0.535},{"w":1.5890,"o":0.816,"f":0.843,"r":0.548},
{"w":1.5896,"o":0.860,"f":0.870,"r":0.563},{"w":1.5901,"o":0.892,"f":0.892,"r":0.541},{"w":1.5907,"o":0.900,"f":0.905,"r":0.556},{"w":1.5913,"o":0.931,"f":0.928,"r":0.571},{"w":1.5918,"o":0.905,"f":0.910,"r":0.549},{"w":1.5923,"o":0.882,"f":0.886,"r":0.564},{"w":1.5932,"o":0.900,"f":0.912,"r":0.578},{"w":1.5939,"o":0.882,"f":0.880,"r":0.552},{"w":1.5944,"o":0.800,"f":0.810,"r":0.545},{"w":1.5948,"o":0.739,"f":0.750,"r":0.567},
{"w":1.5952,"o":0.780,"f":0.790,"r":0.559},{"w":1.5956,"o":0.826,"f":0.826,"r":0.574},{"w":1.5962,"o":0.897,"f":0.863,"r":0.589},{"w":1.5969,"o":0.871,"f":0.871,"r":0.586},{"w":1.5975,"o":0.897,"f":0.894,"r":0.563},{"w":1.5982,"o":0.920,"f":0.920,"r":0.548},{"w":1.5989,"o":0.950,"f":0.935,"r":0.571},{"w":1.5995,"o":0.952,"f":0.930,"r":0.556},{"w":1.5999,"o":0.930,"f":0.894,"r":0.589},{"w":1.6003,"o":0.935,"f":0.925,"r":0.566},
{"w":1.6007,"o":0.943,"f":0.943,"r":0.543},{"w":1.6011,"o":0.880,"f":0.900,"r":0.561},{"w":1.6015,"o":0.833,"f":0.848,"r":0.532},{"w":1.6021,"o":0.870,"f":0.880,"r":0.556},{"w":1.6028,"o":0.894,"f":0.895,"r":0.574},{"w":1.6034,"o":0.860,"f":0.850,"r":0.545},{"w":1.6040,"o":0.826,"f":0.799,"r":0.552},{"w":1.6046,"o":0.880,"f":0.870,"r":0.537},{"w":1.6051,"o":0.890,"f":0.894,"r":0.568},{"w":1.6057,"o":0.850,"f":0.860,"r":0.541},
{"w":1.6062,"o":0.826,"f":0.841,"r":0.529},{"w":1.6068,"o":0.860,"f":0.860,"r":0.553},{"w":1.6074,"o":0.863,"f":0.867,"r":0.534},{"w":1.6081,"o":0.890,"f":0.890,"r":0.503},{"w":1.6087,"o":0.894,"f":0.909,"r":0.562},{"w":1.6092,"o":0.870,"f":0.870,"r":0.577},{"w":1.6097,"o":0.837,"f":0.841,"r":0.548},{"w":1.6102,"o":0.890,"f":0.880,"r":0.566},{"w":1.6107,"o":0.931,"f":0.909,"r":0.555},{"w":1.6114,"o":0.890,"f":0.885,"r":0.572},
{"w":1.6120,"o":0.875,"f":0.867,"r":0.544},{"w":1.6125,"o":0.880,"f":0.870,"r":0.559},{"w":1.6130,"o":0.848,"f":0.852,"r":0.536},{"w":1.6137,"o":0.890,"f":0.890,"r":0.563},{"w":1.6143,"o":0.928,"f":0.924,"r":0.575},{"w":1.6148,"o":0.905,"f":0.915,"r":0.549},{"w":1.6153,"o":0.905,"f":0.905,"r":0.557},{"w":1.6160,"o":0.852,"f":0.894,"r":0.518},{"w":1.6168,"o":0.935,"f":0.922,"r":0.567},{"w":1.6174,"o":0.900,"f":0.905,"r":0.552},
{"w":1.6180,"o":0.886,"f":0.886,"r":0.573},{"w":1.6186,"o":0.894,"f":0.901,"r":0.541},{"w":1.6192,"o":0.915,"f":0.915,"r":0.560},{"w":1.6198,"o":0.939,"f":0.939,"r":0.569},{"w":1.6205,"o":0.900,"f":0.910,"r":0.556},{"w":1.6213,"o":0.871,"f":0.875,"r":0.578},{"w":1.6220,"o":0.900,"f":0.905,"r":0.561},{"w":1.6229,"o":0.937,"f":0.937,"r":0.585},{"w":1.6234,"o":0.910,"f":0.915,"r":0.566},{"w":1.6239,"o":0.870,"f":0.867,"r":0.551},
{"w":1.6243,"o":0.820,"f":0.830,"r":0.572},{"w":1.6247,"o":0.778,"f":0.792,"r":0.548},{"w":1.6252,"o":0.810,"f":0.810,"r":0.564},{"w":1.6256,"o":0.833,"f":0.815,"r":0.556},{"w":1.6262,"o":0.777,"f":0.807,"r":0.576},{"w":1.6267,"o":0.830,"f":0.830,"r":0.541},{"w":1.6272,"o":0.852,"f":0.852,"r":0.565},{"w":1.6282,"o":0.901,"f":0.884,"r":0.553},{"w":1.6288,"o":0.890,"f":0.880,"r":0.569},{"w":1.6295,"o":0.914,"f":0.892,"r":0.582},
{"w":1.6300,"o":0.880,"f":0.870,"r":0.531},{"w":1.6305,"o":0.818,"f":0.852,"r":0.518},{"w":1.6312,"o":0.850,"f":0.860,"r":0.524},{"w":1.6318,"o":0.875,"f":0.875,"r":0.512},{"w":1.6323,"o":0.910,"f":0.900,"r":0.529},{"w":1.6328,"o":0.961,"f":0.928,"r":0.580},{"w":1.6333,"o":0.930,"f":0.930,"r":0.546},{"w":1.6338,"o":0.912,"f":0.924,"r":0.563},{"w":1.6348,"o":0.920,"f":0.922,"r":0.541},{"w":1.6351,"o":0.928,"f":0.926,"r":0.572},
{"w":1.6356,"o":0.945,"f":0.930,"r":0.553},{"w":1.6361,"o":0.914,"f":0.924,"r":0.561},{"w":1.6367,"o":0.935,"f":0.925,"r":0.537},{"w":1.6374,"o":0.890,"f":0.888,"r":0.566},{"w":1.6381,"o":0.894,"f":0.900,"r":0.549},{"w":1.6389,"o":0.943,"f":0.920,"r":0.574},{"w":1.6394,"o":0.915,"f":0.910,"r":0.558},{"w":1.6397,"o":0.912,"f":0.912,"r":0.543},{"w":1.6403,"o":0.935,"f":0.924,"r":0.567},{"w":1.6409,"o":0.920,"f":0.915,"r":0.552},
{"w":1.6414,"o":0.884,"f":0.894,"r":0.578},{"w":1.6420,"o":0.910,"f":0.880,"r":0.597},{"w":1.6424,"o":0.894,"f":0.867,"r":0.585},{"w":1.6429,"o":0.948,"f":0.926,"r":0.571},{"w":1.6435,"o":0.910,"f":0.880,"r":0.589},{"w":1.6440,"o":0.894,"f":0.833,"r":0.562},{"w":1.6449,"o":0.909,"f":0.920,"r":0.579},{"w":1.6453,"o":0.870,"f":0.870,"r":0.556},{"w":1.6457,"o":0.805,"f":0.818,"r":0.583},{"w":1.6462,"o":0.820,"f":0.810,"r":0.566},
{"w":1.6467,"o":0.814,"f":0.814,"r":0.548},{"w":1.6473,"o":0.863,"f":0.863,"r":0.574},{"w":1.6480,"o":0.935,"f":0.905,"r":0.561},{"w":1.6486,"o":0.905,"f":0.894,"r":0.579},{"w":1.6491,"o":0.960,"f":0.960,"r":0.565},{"w":1.6495,"o":1.035,"f":1.039,"r":0.552},{"w":1.6500,"o":0.960,"f":0.965,"r":0.542},{"w":1.6504,"o":0.867,"f":0.846,"r":0.569},{"w":1.6513,"o":0.875,"f":0.875,"r":0.574},{"w":1.6523,"o":0.914,"f":0.920,"r":0.553},
{"w":1.6528,"o":0.890,"f":0.890,"r":0.561},{"w":1.6533,"o":0.884,"f":0.875,"r":0.538},{"w":1.6542,"o":0.901,"f":0.897,"r":0.566},{"w":1.6552,"o":0.922,"f":0.910,"r":0.549},{"w":1.6560,"o":0.930,"f":0.930,"r":0.533},{"w":1.6565,"o":0.950,"f":0.950,"r":0.557},{"w":1.6575,"o":0.894,"f":0.894,"r":0.545},{"w":1.6582,"o":0.843,"f":0.852,"r":0.571},{"w":1.6589,"o":0.899,"f":0.888,"r":0.552},{"w":1.6598,"o":0.852,"f":0.852,"r":0.537},
{"w":1.6608,"o":0.905,"f":0.905,"r":0.548},{"w":1.6618,"o":0.912,"f":0.912,"r":0.526},{"w":1.6625,"o":0.901,"f":0.901,"r":0.542},{"w":1.6631,"o":0.941,"f":0.941,"r":0.531},{"w":1.6636,"o":0.920,"f":0.915,"r":0.545},{"w":1.6641,"o":0.901,"f":0.894,"r":0.519},{"w":1.6645,"o":0.867,"f":0.900,"r":0.538},{"w":1.6651,"o":0.920,"f":0.920,"r":0.552},{"w":1.6658,"o":0.901,"f":0.922,"r":0.529},{"w":1.6664,"o":0.870,"f":0.880,"r":0.512},
{"w":1.6671,"o":0.843,"f":0.839,"r":0.543},{"w":1.6678,"o":0.811,"f":0.850,"r":0.533},{"w":1.6682,"o":0.850,"f":0.860,"r":0.548},{"w":1.6687,"o":0.877,"f":0.877,"r":0.524},{"w":1.6694,"o":0.880,"f":0.890,"r":0.557},{"w":1.6701,"o":0.920,"f":0.901,"r":0.541},{"w":1.6707,"o":0.860,"f":0.860,"r":0.566},{"w":1.6715,"o":0.829,"f":0.839,"r":0.529},{"w":1.6720,"o":0.860,"f":0.850,"r":0.551},{"w":1.6724,"o":0.829,"f":0.860,"r":0.545},
{"w":1.6732,"o":0.888,"f":0.894,"r":0.562},{"w":1.6740,"o":0.865,"f":0.865,"r":0.538},{"w":1.6745,"o":0.890,"f":0.880,"r":0.555},{"w":1.6750,"o":0.894,"f":0.909,"r":0.507},{"w":1.6755,"o":0.900,"f":0.900,"r":0.549},{"w":1.6760,"o":0.935,"f":0.924,"r":0.572},{"w":1.6765,"o":0.900,"f":0.900,"r":0.558},{"w":1.6770,"o":0.888,"f":0.877,"r":0.566},{"w":1.6776,"o":0.860,"f":0.860,"r":0.545},{"w":1.6781,"o":0.822,"f":0.833,"r":0.574},
{"w":1.6788,"o":0.880,"f":0.870,"r":0.561},{"w":1.6796,"o":0.926,"f":0.912,"r":0.553},{"w":1.6803,"o":0.901,"f":0.901,"r":0.569},{"w":1.6808,"o":0.830,"f":0.830,"r":0.578},{"w":1.6811,"o":0.790,"f":0.790,"r":0.547},{"w":1.6815,"o":0.830,"f":0.830,"r":0.565},{"w":1.6819,"o":0.894,"f":0.860,"r":0.588},{"w":1.6824,"o":0.910,"f":0.900,"r":0.571},{"w":1.6829,"o":0.941,"f":0.916,"r":0.556},{"w":1.6835,"o":0.920,"f":0.920,"r":0.582},
{"w":1.6839,"o":0.928,"f":0.928,"r":0.566},{"w":1.6844,"o":0.910,"f":0.905,"r":0.551},{"w":1.6849,"o":0.901,"f":0.886,"r":0.574},{"w":1.6854,"o":0.880,"f":0.880,"r":0.590},{"w":1.6859,"o":0.912,"f":0.871,"r":0.562},{"w":1.6865,"o":0.880,"f":0.870,"r":0.578},{"w":1.6871,"o":0.878,"f":0.871,"r":0.588},{"w":1.6876,"o":0.860,"f":0.860,"r":0.553},{"w":1.6879,"o":0.837,"f":0.856,"r":0.567},{"w":1.6885,"o":0.880,"f":0.865,"r":0.541},
{"w":1.6891,"o":0.899,"f":0.875,"r":0.559},{"w":1.6898,"o":0.803,"f":0.814,"r":0.532},{"w":1.6905,"o":0.792,"f":0.826,"r":0.503},{"w":1.6912,"o":0.870,"f":0.865,"r":0.548},{"w":1.6917,"o":0.850,"f":0.855,"r":0.562},{"w":1.6922,"o":0.839,"f":0.839,"r":0.539},{"w":1.6928,"o":0.814,"f":0.818,"r":0.556},{"w":1.6933,"o":0.835,"f":0.830,"r":0.571},{"w":1.6938,"o":0.852,"f":0.839,"r":0.545},{"w":1.6943,"o":0.835,"f":0.835,"r":0.553},
{"w":1.6948,"o":0.826,"f":0.826,"r":0.536},{"w":1.6955,"o":0.807,"f":0.825,"r":0.564},{"w":1.6960,"o":0.840,"f":0.830,"r":0.549},{"w":1.6965,"o":0.860,"f":0.826,"r":0.578},{"w":1.6972,"o":0.870,"f":0.850,"r":0.542},{"w":1.6978,"o":0.888,"f":0.875,"r":0.561},{"w":1.6983,"o":0.860,"f":0.865,"r":0.528},{"w":1.6988,"o":0.824,"f":0.837,"r":0.555},{"w":1.6993,"o":0.860,"f":0.850,"r":0.571},{"w":1.6998,"o":0.888,"f":0.860,"r":0.566}
],
"rb2": [
{"w":1.5002,"r":0.566},{"w":1.5007,"r":0.548},{"w":1.5012,"r":0.579},{"w":1.5017,"r":0.557},{"w":1.5022,"r":0.590},{"w":1.5027,"r":0.541},{"w":1.5032,"r":0.534},{"w":1.5037,"r":0.505},{"w":1.5042,"r":0.526},{"w":1.5047,"r":0.552},
{"w":1.5052,"r":0.568},{"w":1.5057,"r":0.543},{"w":1.5062,"r":0.572},{"w":1.5067,"r":0.555},{"w":1.5072,"r":0.538},{"w":1.5077,"r":0.562},{"w":1.5082,"r":0.531},{"w":1.5087,"r":0.574},{"w":1.5092,"r":0.549},{"w":1.5097,"r":0.558},
{"w":1.5102,"r":0.542},{"w":1.5107,"r":0.566},{"w":1.5112,"r":0.529},{"w":1.5117,"r":0.553},{"w":1.5122,"r":0.571},{"w":1.5127,"r":0.547},{"w":1.5132,"r":0.578},{"w":1.5137,"r":0.591},{"w":1.5142,"r":0.563},{"w":1.5147,"r":0.536},
{"w":1.5152,"r":0.551},{"w":1.5157,"r":0.527},{"w":1.5162,"r":0.544},{"w":1.5167,"r":0.563},{"w":1.5172,"r":0.532},{"w":1.5177,"r":0.558},{"w":1.5182,"r":0.539},{"w":1.5187,"r":0.522},{"w":1.5192,"r":0.547},{"w":1.5197,"r":0.535},
{"w":1.5202,"r":0.556},{"w":1.5207,"r":0.531},{"w":1.5212,"r":0.542},{"w":1.5217,"r":0.526},{"w":1.5222,"r":0.551},{"w":1.5227,"r":0.538},{"w":1.5232,"r":0.520},{"w":1.5237,"r":0.545},{"w":1.5242,"r":0.533},{"w":1.5247,"r":0.549},
{"w":1.5252,"r":0.563},{"w":1.5257,"r":0.572},{"w":1.5262,"r":0.556},{"w":1.5267,"r":0.581},{"w":1.5272,"r":0.567},{"w":1.5277,"r":0.549},{"w":1.5282,"r":0.575},{"w":1.5287,"r":0.558},{"w":1.5292,"r":0.569},{"w":1.5297,"r":0.584},
{"w":1.5302,"r":0.561},{"w":1.5307,"r":0.577},{"w":1.5312,"r":0.553},{"w":1.5317,"r":0.568},{"w":1.5322,"r":0.582},{"w":1.5327,"r":0.546},{"w":1.5332,"r":0.572},{"w":1.5337,"r":0.559},{"w":1.5342,"r":0.567},{"w":1.5347,"r":0.551},
{"w":1.5352,"r":0.575},{"w":1.5357,"r":0.562},{"w":1.5362,"r":0.581},{"w":1.5367,"r":0.568},{"w":1.5372,"r":0.553},{"w":1.5377,"r":0.574},{"w":1.5382,"r":0.587},{"w":1.5387,"r":0.561},{"w":1.5392,"r":0.571},{"w":1.5397,"r":0.556},
{"w":1.5402,"r":0.566},{"w":1.5407,"r":0.548},{"w":1.5412,"r":0.572},{"w":1.5417,"r":0.586},{"w":1.5422,"r":0.559},{"w":1.5427,"r":0.544},{"w":1.5432,"r":0.567},{"w":1.5437,"r":0.553},{"w":1.5442,"r":0.578},{"w":1.5447,"r":0.562},
{"w":1.5452,"r":0.571},{"w":1.5457,"r":0.552},{"w":1.5462,"r":0.538},{"w":1.5467,"r":0.563},{"w":1.5472,"r":0.547},{"w":1.5477,"r":0.531},{"w":1.5482,"r":0.558},{"w":1.5487,"r":0.545},{"w":1.5492,"r":0.566},{"w":1.5497,"r":0.541},
{"w":1.5502,"r":0.553},{"w":1.5507,"r":0.568},{"w":1.5512,"r":0.534},{"w":1.5517,"r":0.561},{"w":1.5522,"r":0.547},{"w":1.5527,"r":0.579},{"w":1.5532,"r":0.521},{"w":1.5537,"r":0.556},{"w":1.5542,"r":0.596},{"w":1.5547,"r":0.571},
{"w":1.5552,"r":0.563},{"w":1.5557,"r":0.548},{"w":1.5562,"r":0.577},{"w":1.5567,"r":0.559},{"w":1.5572,"r":0.566},{"w":1.5577,"r":0.552},{"w":1.5582,"r":0.571},{"w":1.5587,"r":0.557},{"w":1.5592,"r":0.562},{"w":1.5597,"r":0.568},
{"w":1.5602,"r":0.574},{"w":1.5607,"r":0.556},{"w":1.5612,"r":0.567},{"w":1.5617,"r":0.561},{"w":1.5622,"r":0.578},{"w":1.5627,"r":0.536},{"w":1.5632,"r":0.521},{"w":1.5637,"r":0.542},{"w":1.5642,"r":0.515},{"w":1.5647,"r":0.531},
{"w":1.5652,"r":0.524},{"w":1.5657,"r":0.541},{"w":1.5662,"r":0.509},{"w":1.5667,"r":0.533},{"w":1.5672,"r":0.547},{"w":1.5677,"r":0.522},{"w":1.5682,"r":0.538},{"w":1.5687,"r":0.516},{"w":1.5692,"r":0.543},{"w":1.5697,"r":0.529},
{"w":1.5702,"r":0.541},{"w":1.5707,"r":0.557},{"w":1.5712,"r":0.532},{"w":1.5717,"r":0.568},{"w":1.5722,"r":0.549},{"w":1.5727,"r":0.521},{"w":1.5732,"r":0.561},{"w":1.5737,"r":0.575},{"w":1.5742,"r":0.552},{"w":1.5747,"r":0.538},
{"w":1.5752,"r":0.566},{"w":1.5757,"r":0.547},{"w":1.5762,"r":0.582},{"w":1.5767,"r":0.529},{"w":1.5772,"r":0.553},{"w":1.5777,"r":0.571},{"w":1.5782,"r":0.544},{"w":1.5787,"r":0.563},{"w":1.5792,"r":0.519},{"w":1.5797,"r":0.557},
{"w":1.5802,"r":0.572},{"w":1.5807,"r":0.548},{"w":1.5812,"r":0.589},{"w":1.5817,"r":0.563},{"w":1.5822,"r":0.541},{"w":1.5827,"r":0.556},{"w":1.5832,"r":0.534},{"w":1.5837,"r":0.527},{"w":1.5842,"r":0.539},{"w":1.5847,"r":0.522},
{"w":1.5852,"r":0.531},{"w":1.5857,"r":0.518},{"w":1.5862,"r":0.543},{"w":1.5867,"r":0.526},{"w":1.5872,"r":0.537},{"w":1.5877,"r":0.529},{"w":1.5882,"r":0.546},{"w":1.5887,"r":0.532},{"w":1.5892,"r":0.557},{"w":1.5897,"r":0.544},
{"w":1.5902,"r":0.553},{"w":1.5907,"r":0.568},{"w":1.5912,"r":0.547},{"w":1.5917,"r":0.561},{"w":1.5922,"r":0.579},{"w":1.5927,"r":0.558},{"w":1.5932,"r":0.566},{"w":1.5937,"r":0.551},{"w":1.5942,"r":0.571},{"w":1.5947,"r":0.562},
{"w":1.5952,"r":0.578},{"w":1.5957,"r":0.555},{"w":1.5962,"r":0.591},{"w":1.5967,"r":0.583},{"w":1.5972,"r":0.567},{"w":1.5977,"r":0.574},{"w":1.5982,"r":0.559},{"w":1.5987,"r":0.581},{"w":1.5992,"r":0.563},{"w":1.5997,"r":0.572},
{"w":1.6002,"r":0.558},{"w":1.6007,"r":0.574},{"w":1.6012,"r":0.541},{"w":1.6017,"r":0.563},{"w":1.6022,"r":0.551},{"w":1.6027,"r":0.567},{"w":1.6032,"r":0.534},{"w":1.6037,"r":0.556},{"w":1.6042,"r":0.578},{"w":1.6047,"r":0.545},
{"w":1.6052,"r":0.561},{"w":1.6057,"r":0.538},{"w":1.6062,"r":0.553},{"w":1.6067,"r":0.529},{"w":1.6072,"r":0.548},{"w":1.6077,"r":0.566},{"w":1.6082,"r":0.541},{"w":1.6087,"r":0.521},{"w":1.6092,"r":0.557},{"w":1.6097,"r":0.569},
{"w":1.6102,"r":0.552},{"w":1.6107,"r":0.571},{"w":1.6112,"r":0.543},{"w":1.6117,"r":0.562},{"w":1.6122,"r":0.558},{"w":1.6127,"r":0.536},{"w":1.6132,"r":0.567},{"w":1.6137,"r":0.551},{"w":1.6142,"r":0.574},{"w":1.6147,"r":0.546},
{"w":1.6152,"r":0.559},{"w":1.6157,"r":0.528},{"w":1.6162,"r":0.541},{"w":1.6167,"r":0.563},{"w":1.6172,"r":0.545},{"w":1.6177,"r":0.572},{"w":1.6182,"r":0.556},{"w":1.6187,"r":0.538},{"w":1.6192,"r":0.566},{"w":1.6197,"r":0.553},
{"w":1.6202,"r":0.567},{"w":1.6207,"r":0.575},{"w":1.6212,"r":0.558},{"w":1.6217,"r":0.581},{"w":1.6222,"r":0.563},{"w":1.6227,"r":0.572},{"w":1.6232,"r":0.556},{"w":1.6237,"r":0.569},{"w":1.6242,"r":0.578},{"w":1.6247,"r":0.561},
{"w":1.6252,"r":0.573},{"w":1.6257,"r":0.559},{"w":1.6262,"r":0.566},{"w":1.6267,"r":0.552},{"w":1.6272,"r":0.578},{"w":1.6277,"r":0.563},{"w":1.6282,"r":0.571},{"w":1.6287,"r":0.548},{"w":1.6292,"r":0.583},{"w":1.6297,"r":0.568},
{"w":1.6302,"r":0.521},{"w":1.6307,"r":0.515},{"w":1.6312,"r":0.532},{"w":1.6317,"r":0.519},{"w":1.6322,"r":0.527},{"w":1.6327,"r":0.573},{"w":1.6332,"r":0.538},{"w":1.6337,"r":0.556},{"w":1.6342,"r":0.544},{"w":1.6347,"r":0.561},
{"w":1.6352,"r":0.547},{"w":1.6357,"r":0.563},{"w":1.6362,"r":0.551},{"w":1.6367,"r":0.572},{"w":1.6372,"r":0.539},{"w":1.6377,"r":0.558},{"w":1.6382,"r":0.566},{"w":1.6387,"r":0.544},{"w":1.6392,"r":0.553},{"w":1.6397,"r":0.569},
{"w":1.6402,"r":0.556},{"w":1.6407,"r":0.574},{"w":1.6412,"r":0.562},{"w":1.6417,"r":0.583},{"w":1.6422,"r":0.591},{"w":1.6427,"r":0.569},{"w":1.6432,"r":0.578},{"w":1.6437,"r":0.586},{"w":1.6442,"r":0.572},{"w":1.6447,"r":0.581},
{"w":1.6452,"r":0.565},{"w":1.6457,"r":0.588},{"w":1.6462,"r":0.573},{"w":1.6467,"r":0.561},{"w":1.6472,"r":0.579},{"w":1.6477,"r":0.568},{"w":1.6482,"r":0.584},{"w":1.6487,"r":0.571},{"w":1.6492,"r":0.556},{"w":1.6497,"r":0.562},
{"w":1.6502,"r":0.558},{"w":1.6507,"r":0.547},{"w":1.6512,"r":0.566},{"w":1.6517,"r":0.552},{"w":1.6522,"r":0.539},{"w":1.6527,"r":0.561},{"w":1.6532,"r":0.545},{"w":1.6537,"r":0.572},{"w":1.6542,"r":0.548},{"w":1.6547,"r":0.557},
{"w":1.6552,"r":0.541},{"w":1.6557,"r":0.563},{"w":1.6562,"r":0.536},{"w":1.6567,"r":0.554},{"w":1.6572,"r":0.547},{"w":1.6577,"r":0.529},{"w":1.6582,"r":0.558},{"w":1.6587,"r":0.543},{"w":1.6592,"r":0.532},{"w":1.6597,"r":0.549},
{"w":1.6602,"r":0.535},{"w":1.6607,"r":0.521},{"w":1.6612,"r":0.544},{"w":1.6617,"r":0.528},{"w":1.6622,"r":0.539},{"w":1.6627,"r":0.517},{"w":1.6632,"r":0.533},{"w":1.6637,"r":0.547},{"w":1.6642,"r":0.525},{"w":1.6647,"r":0.541},
{"w":1.6652,"r":0.522},{"w":1.6657,"r":0.536},{"w":1.6662,"r":0.514},{"w":1.6667,"r":0.542},{"w":1.6672,"r":0.528},{"w":1.6677,"r":0.551},{"w":1.6682,"r":0.531},{"w":1.6687,"r":0.546},{"w":1.6692,"r":0.519},{"w":1.6697,"r":0.538},
{"w":1.6702,"r":0.552},{"w":1.6707,"r":0.528},{"w":1.6712,"r":0.564},{"w":1.6717,"r":0.541},{"w":1.6722,"r":0.533},{"w":1.6727,"r":0.557},{"w":1.6732,"r":0.526},{"w":1.6737,"r":0.548},{"w":1.6742,"r":0.561},{"w":1.6747,"r":0.537},
{"w":1.6752,"r":0.546},{"w":1.6757,"r":0.563},{"w":1.6762,"r":0.571},{"w":1.6767,"r":0.558},{"w":1.6772,"r":0.582},{"w":1.6777,"r":0.566},{"w":1.6782,"r":0.553},{"w":1.6787,"r":0.577},{"w":1.6792,"r":0.561},{"w":1.6797,"r":0.569},
{"w":1.6802,"r":0.584},{"w":1.6807,"r":0.571},{"w":1.6812,"r":0.562},{"w":1.6817,"r":0.589},{"w":1.6822,"r":0.576},{"w":1.6827,"r":0.558},{"w":1.6832,"r":0.581},{"w":1.6837,"r":0.567},{"w":1.6842,"r":0.592},{"w":1.6847,"r":0.573},
{"w":1.6852,"r":0.565},{"w":1.6857,"r":0.582},{"w":1.6862,"r":0.556},{"w":1.6867,"r":0.574},{"w":1.6872,"r":0.561},{"w":1.6877,"r":0.547},{"w":1.6882,"r":0.569},{"w":1.6887,"r":0.538},{"w":1.6892,"r":0.553},{"w":1.6897,"r":0.542},
{"w":1.6902,"r":0.529},{"w":1.6907,"r":0.547},{"w":1.6912,"r":0.556},{"w":1.6917,"r":0.538},{"w":1.6922,"r":0.562},{"w":1.6927,"r":0.531},{"w":1.6932,"r":0.549},{"w":1.6937,"r":0.571},{"w":1.6942,"r":0.526},{"w":1.6947,"r":0.544},
{"w":1.6952,"r":0.559},{"w":1.6957,"r":0.537},{"w":1.6962,"r":0.566},{"w":1.6967,"r":0.578},{"w":1.6972,"r":0.548},{"w":1.6977,"r":0.561},{"w":1.6982,"r":0.534},{"w":1.6987,"r":0.555},{"w":1.6992,"r":0.573},{"w":1.6997,"r":0.562}
],
"emt": [
{"w":1.1696,"e":0.750},{"w":1.2600,"e":0.750},{"w":1.2601,"e":0.753},{"w":1.26045,"e":0.779},{"w":1.2607,"e":0.827},{"w":1.26095,"e":0.888},{"w":1.2612,"e":0.918},{"w":1.26145,"e":0.888},{"w":1.2617,"e":0.827},{"w":1.26195,"e":0.779},{"w":1.2623,"e":0.753},{"w":1.2624,"e":0.750},
{"w":1.2850,"e":0.750},{"w":1.2851,"e":0.755},{"w":1.28545,"e":0.794},{"w":1.2857,"e":0.870},{"w":1.28595,"e":0.963},{"w":1.2862,"e":1.010},{"w":1.28645,"e":0.963},{"w":1.2867,"e":0.870},{"w":1.28695,"e":0.794},{"w":1.2873,"e":0.755},{"w":1.2874,"e":0.750},
{"w":1.3239,"e":0.750},{"w":1.3240,"e":0.751},{"w":1.32435,"e":0.757},{"w":1.3246,"e":0.770},{"w":1.32485,"e":0.786},{"w":1.3251,"e":0.794},{"w":1.32535,"e":0.786},{"w":1.3256,"e":0.770},{"w":1.32585,"e":0.757},{"w":1.3262,"e":0.751},{"w":1.3263,"e":0.750},{"w":1.3500,"e":0.750}
],
"emb": [
{"w":1.5000,"e":0.550},{"w":1.6481,"e":0.550},{"w":1.6482,"e":0.554},{"w":1.6486,"e":0.577},{"w":1.6489,"e":0.624},{"w":1.6492,"e":0.687},{"w":1.6495,"e":0.718},{"w":1.6498,"e":0.687},{"w":1.6501,"e":0.624},{"w":1.6504,"e":0.577},{"w":1.6508,"e":0.554},{"w":1.6509,"e":0.550},{"w":1.7000,"e":0.550}
]
},
"vconcat": [
{
  "width": 1011, "height": 617,
  "encoding": {
    "x": {"field": "w", "type": "quantitative", "title": "λ (μm)", "scale": {"domain": [1.1696, 1.35], "nice": false, "zero": false}, "axis": {"values": [1.175, 1.2, 1.225, 1.25, 1.275, 1.3, 1.325, 1.35], "format": ".3f"}}
  },
  "layer": [
    {"data": {"name": "top"}, "mark": {"type": "line", "color": "#000000", "strokeWidth": 2.6, "clip": true},
     "encoding": {"y": {"field": "o", "type": "quantitative", "title": "Flux (norm.)", "scale": {"domain": [0.652, 1.45], "nice": false, "zero": false}, "axis": {"values": [0.7, 0.8, 0.9, 1.0, 1.1, 1.2, 1.3, 1.4], "format": ".1f"}}}},
    {"data": {"name": "top"}, "mark": {"type": "line", "color": "#ffa500", "strokeWidth": 2.6, "clip": true},
     "encoding": {"y": {"field": "f", "type": "quantitative", "title": "Flux (norm.)"}}},
    {"data": {"name": "top"}, "mark": {"type": "point", "filled": true, "color": "#6a5acd", "size": 28, "opacity": 1, "clip": true},
     "encoding": {"y": {"field": "r", "type": "quantitative", "title": "Flux (norm.)"}}},
    {"data": {"name": "rt2"}, "mark": {"type": "point", "filled": true, "color": "#6a5acd", "size": 28, "opacity": 1, "clip": true},
     "encoding": {"y": {"field": "r", "type": "quantitative", "title": "Flux (norm.)"}}},
    {"data": {"name": "emt"}, "mark": {"type": "line", "color": "#8b0000", "strokeWidth": 2.6, "clip": true},
     "encoding": {"y": {"field": "e", "type": "quantitative", "title": "Flux (norm.)"}}}
  ]
},
{
  "width": 1011, "height": 617,
  "encoding": {
    "x": {"field": "w", "type": "quantitative", "title": "λ (μm)", "scale": {"domain": [1.5, 1.7], "nice": false, "zero": false}, "axis": {"values": [1.5, 1.525, 1.55, 1.575, 1.6, 1.625, 1.65, 1.675, 1.7], "format": ".3f"}}
  },
  "layer": [
    {"data": {"name": "bot"}, "mark": {"type": "line", "strokeWidth": 2.6, "clip": true},
     "encoding": {
       "y": {"field": "o", "type": "quantitative", "title": "Flux (norm.)", "scale": {"domain": [0.451, 1.149], "nice": false, "zero": false}, "axis": {"values": [0.5, 0.6, 0.7, 0.8, 0.9, 1.0, 1.1], "format": ".1f"}},
       "color": {"datum": "Binned spectrum", "type": "nominal",
         "scale": {"domain": ["Binned spectrum", "pPXF fit", "Emission lines", "Residual"], "range": ["#000000", "#ffa500", "#8b0000", "#6a5acd"]},
         "legend": {"title": null, "orient": "none", "legendX": 16, "legendY": 14, "columns": 2, "labelFont": "DejaVu Serif", "labelFontSize": 30, "labelColor": "black", "labelOffset": 22, "labelLimit": 400,
           "symbolType": {"expr": "datum.value === 'Residual' ? 'M-0.06,0A0.06,0.06 0 1,0 0.06,0A0.06,0.06 0 1,0 -0.06,0Z' : 'stroke'"},
           "symbolSize": 3844, "symbolStrokeWidth": 2.5, "symbolFillColor": "#6a5acd", "symbolOpacity": 1,
           "clipHeight": 34, "rowPadding": 10, "columnPadding": 62, "padding": 10,
           "strokeColor": "#cccccc", "fillColor": "rgba(255,255,255,0.8)", "cornerRadius": 6}}}},
    {"data": {"name": "bot"}, "mark": {"type": "line", "strokeWidth": 2.6, "clip": true},
     "encoding": {"y": {"field": "f", "type": "quantitative", "title": "Flux (norm.)"}, "color": {"datum": "pPXF fit", "type": "nominal"}}},
    {"data": {"name": "bot"}, "mark": {"type": "point", "filled": true, "size": 28, "opacity": 1, "clip": true},
     "encoding": {"y": {"field": "r", "type": "quantitative", "title": "Flux (norm.)"}, "color": {"datum": "Residual", "type": "nominal"}}},
    {"data": {"name": "rb2"}, "mark": {"type": "point", "filled": true, "size": 28, "opacity": 1, "clip": true},
     "encoding": {"y": {"field": "r", "type": "quantitative", "title": "Flux (norm.)"}, "color": {"datum": "Residual", "type": "nominal"}}},
    {"data": {"name": "emb"}, "mark": {"type": "line", "strokeWidth": 2.6, "clip": true},
     "encoding": {"y": {"field": "e", "type": "quantitative", "title": "Flux (norm.)"}, "color": {"datum": "Emission lines", "type": "nominal"}}}
  ]
}
],
"resolve": {"scale": {"color": "independent"}, "legend": {"color": "independent"}}
}
